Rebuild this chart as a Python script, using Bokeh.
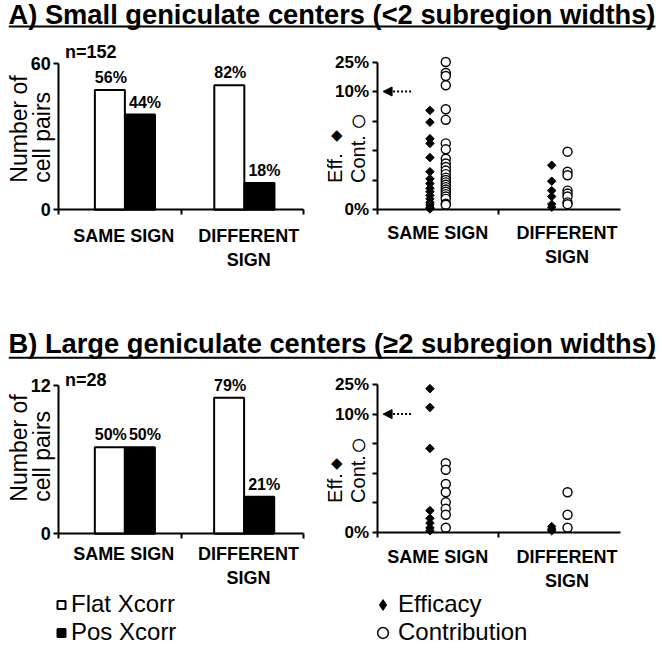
import math
from bokeh.plotting import figure
from bokeh.models import (ColumnDataSource, FixedTicker, Range1d, Label, LabelSet,
                          Arrow, NormalHead, Legend, LegendItem, BoxAnnotation, Spacer)
from bokeh.layouts import column, row
from bokeh.embed import file_html
from bokeh.resources import INLINE
from bokeh.core.properties import value

FONT = "Liberation Sans"

# ---------------- data ----------------
title_a = "A) Small geniculate centers (<2 subregion widths)"
title_b = "B) Large geniculate centers (\u22652 subregion widths)"
categories = ["SAME SIGN", "DIFFERENT\nSIGN"]
bar_ylabel = ["Number of", "cell pairs"]
sc_ylabel = ["Eff.", "Cont."]
sc_symbols = ["\u25c6", "\u25cb"]
legend_bars = ["Flat Xcorr", "Pos Xcorr"]
legend_marks = ["Efficacy", "Contribution"]

# panel A bars (number of cell pairs)
a_flat = [49, 51]
a_pos = [39, 11]
a_flat_pct = ["56%", "82%"]
a_pos_pct = ["44%", "18%"]
a_n = "n=152"
a_ymax = 60

# panel B bars
b_flat = [7, 11]
b_pos = [7, 3]
b_flat_pct = ["50%", "79%"]
b_pos_pct = ["50%", "21%"]
b_n = "n=28"
b_ymax = 12

# efficacy / contribution (percent)
a_same_eff = [8.4, 7.4, 6.0, 5.6, 4.4, 3.2, 2.6, 2.2, 1.8, 1.5, 1.2, 0.9, 0.6, 0.4, 0.2, 0.1, 0.05]
a_same_cont = [25, 19.4, 17.9, 13.2, 8.5, 7.6, 5.6, 5.1, 4.3, 3.9, 3.6, 3.3, 3.0, 2.7, 2.5,
               2.3, 2.1, 1.9, 1.7, 1.5, 1.3, 1.1, 0.9, 0.5, 0.4]
a_diff_eff = [3.75, 2.4, 1.6, 1.1, 0.45, 0.2]
a_diff_cont = [4.9, 3.2, 2.9, 1.6, 1.35, 1.1, 0.6, 0.45]
b_same_eff = [22.9, 13.4, 7.1, 1.85, 1.2, 0.8, 0.4, 0.15]
b_same_cont = [5.85, 5.3, 4.1, 3.4, 2.55, 2.0, 1.5, 0.4]
b_diff_eff = [0.5, 0.3, 0.15]
b_diff_cont = [3.4, 1.5, 0.4]

pct_ticks = [0, 2.5, 5, 7.5, 10, 25]
pct_labels = ["0%", "", "", "", "10%", "25%"]
arrow_level = 10


def to_axis(v):
    # broken scale: 0-10% linear, then 10-25% compressed into one step
    return v / 2.5 if v <= 10 else 4 + (v - 10) / 15.0


# ---------------- helpers ----------------
def make_fig(fig_box, data_box, ext):
    """fig_box/data_box in page pixels (left, top, right, bottom); ext = data extents."""
    fx0, fy0, fx1, fy1 = fig_box
    dl, dt, dr, db = data_box
    xmin, xmax, ymin, ymax = ext
    sx = (xmax - xmin) / (dr - dl)
    sy = (ymax - ymin) / (db - dt)
    xr = Range1d(xmin - (dl - fx0) * sx, xmax + (fx1 - dr) * sx)
    yr = Range1d(ymin - (fy1 - db) * sy, ymax + (dt - fy0) * sy)
    p = figure(width=fx1 - fx0, height=fy1 - fy0, x_range=xr, y_range=yr,
               output_backend="svg", toolbar_location=None, title=None, min_border=0)
    p.grid.visible = False
    p.outline_line_color = None
    return p


def style_xaxis(p, label_pos, minor, standoff):
    ax = p.xaxis[0]
    ax.fixed_location = 0
    ax.bounds = (0, 2)
    ax.ticker = FixedTicker(ticks=label_pos, minor_ticks=minor)
    ax.major_label_overrides = {label_pos[0]: categories[0], label_pos[1]: categories[1]}
    ax.major_tick_line_color = None
    ax.major_tick_out = 0
    ax.major_tick_in = 0
    ax.minor_tick_out = 5
    ax.minor_tick_in = 0
    ax.minor_tick_line_width = 2
    ax.minor_tick_line_color = "black"
    ax.axis_line_width = 2
    ax.axis_line_color = "black"
    ax.major_label_standoff = standoff
    ax.major_label_text_font = FONT
    ax.major_label_text_font_style = "bold"
    ax.major_label_text_font_size = "18px"
    ax.major_label_text_color = "black"


def style_yaxis(p, ticks, top, overrides, size):
    ax = p.yaxis[0]
    ax.fixed_location = 0
    ax.bounds = (0, top)
    ax.ticker = FixedTicker(ticks=ticks)
    if overrides:
        ax.major_label_overrides = overrides
    ax.major_tick_out = 5
    ax.major_tick_in = 0
    ax.major_tick_line_width = 2
    ax.major_tick_line_color = "black"
    ax.minor_tick_line_color = None
    ax.axis_line_width = 2
    ax.axis_line_color = "black"
    ax.major_label_standoff = 3
    ax.major_label_text_font = FONT
    ax.major_label_text_font_style = "bold"
    ax.major_label_text_font_size = size
    ax.major_label_text_color = "black"


def ylabels(p, texts, y, offsets, size):
    for txt, xo in zip(texts, offsets):
        p.add_layout(Label(x=0, y=y, x_offset=xo, text=txt, angle=math.pi / 2,
                           text_align="left", text_baseline="middle", text_font=FONT,
                           text_font_size=size, text_color="black"))


def bar_panel(flat, pos, flat_pct, pos_pct, n_text, ymax, fig_box, data_box, standoff,
              ylab_y, n_off):
    p = make_fig(fig_box, data_box, (0, 2, 0, ymax))
    style_xaxis(p, [0.53, 1.55], [0, 1, 2], standoff)
    style_yaxis(p, [0, ymax], ymax, None, "18px")
    centers = [0.54, 1.515]
    src = ColumnDataSource(dict(
        xw=[c - 0.123 for c in centers], xb=[c + 0.123 for c in centers],
        flat=flat, pos=pos, fp=flat_pct, pp=pos_pct))
    p.vbar(x="xw", top="flat", width=0.245, source=src, fill_color="white",
           line_color="black", line_width=2)
    p.vbar(x="xb", top="pos", width=0.245, source=src, fill_color="black",
           line_color="black", line_width=2)
    for xcol, ycol, tcol, xo in (("xw", "flat", "fp", 1), ("xb", "pos", "pp", 5)):
        p.add_layout(LabelSet(x=xcol, y=ycol, text=tcol, source=src, x_offset=xo, y_offset=4,
                              text_align="center", text_baseline="bottom",
                              text_font=value(FONT), text_font_style="bold",
                              text_font_size="16px", text_color="black"))
    p.add_layout(Label(x=0.05, y=ymax, y_offset=n_off, text=n_text, text_font=FONT,
                       text_font_style="bold", text_font_size="18px",
                       text_baseline="bottom", text_color="black"))
    ylabels(p, bar_ylabel, ylab_y, (-40, -17), "23px")
    return p


def scatter_panel(same_eff, same_cont, diff_eff, diff_cont, fig_box, data_box, standoff,
                  ylab_y, sym_y):
    p = make_fig(fig_box, data_box, (0, 2, 0, 5))
    style_xaxis(p, [0.5, 1.56], [0, 1], standoff)
    tick_pos = [to_axis(t) for t in pct_ticks]
    style_yaxis(p, tick_pos, 5, dict(zip(tick_pos, pct_labels)), "17px")
    centers = [0.5, 1.5]
    ex, ey, cx, cy = [], [], [], []
    for c, e, k in zip(centers, [same_eff, diff_eff], [same_cont, diff_cont]):
        ex += [c - 0.065] * len(e)
        ey += [to_axis(v) for v in e]
        cx += [c + 0.065] * len(k)
        cy += [to_axis(v) for v in k]
    p.scatter(x=cx, y=cy, marker="circle", size=9, fill_color="white",
              line_color="black", line_width=1.4)
    p.scatter(x=ex, y=ey, marker="square", angle=math.pi / 4, size=6,
              fill_color="black", line_color="black", line_width=1)
    ya = to_axis(arrow_level)
    p.add_layout(Arrow(end=NormalHead(size=9, fill_color="black", line_color="black",
                                      line_width=1),
                       x_start=0.28, y_start=ya, x_end=0.05, y_end=ya,
                       line_dash="2 2", line_width=2, line_color="black"))
    ylabels(p, sc_ylabel, ylab_y, (-42, -19), "20px")
    for sym, xo, sy, fs in zip(sc_symbols, (-40, -18), sym_y, ("15px", "29px")):
        p.add_layout(Label(x=0, y=sy, x_offset=xo, text=sym, text_align="center",
                           text_baseline="middle", text_font=FONT, text_font_size=fs,
                           text_color="black"))
    return p


def title_block(text, height, label_y, line_y):
    t = figure(width=654, height=height, x_range=Range1d(0, 654), y_range=Range1d(0, height),
               output_backend="svg", toolbar_location=None, title=None,
               x_axis_type=None, y_axis_type=None, min_border=0)
    t.grid.visible = False
    t.outline_line_color = None
    t.add_layout(Label(x=0, y=label_y, text=text, text_font=FONT, text_font_style="bold",
                       text_font_size="27.3px", text_baseline="bottom",
                       text_color="black"))
    t.add_layout(BoxAnnotation(left=0, right=647, bottom=line_y - 1, top=line_y + 1,
                               fill_color="black", fill_alpha=1, line_color=None))
    return row(Spacer(width=8, height=height), t)


# ---------------- build ----------------
ta = title_block(title_a, 32, 2.2, 6)
pa1 = bar_panel(a_flat, a_pos, a_flat_pct, a_pos_pct, a_n, a_ymax,
                (0, 32, 325, 300), (58.3, 62.7, 303.3, 209.3), 11, 11.1, 1)
pa2 = scatter_panel(a_same_eff, a_same_cont, a_diff_eff, a_diff_cont,
                    (325, 32, 662, 300), (376.5, 61.5, 620, 209), 8, 0.9, (2.54, 3.05))
tb = title_block(title_b, 70, 11.2, 12.7)
pb1 = bar_panel(b_flat, b_pos, b_flat_pct, b_pos_pct, b_n, b_ymax,
                (0, 370, 325, 590), (58.3, 385, 303, 533.3), 5, 2.6, -4)
pb2 = scatter_panel(b_same_eff, b_same_cont, b_diff_eff, b_diff_cont,
                    (325, 370, 662, 590), (376.5, 384, 620, 532), 9, 1.0, (2.37, 3.0))

lg = figure(width=662, height=58, x_range=Range1d(0, 1), y_range=Range1d(0, 1),
            output_backend="svg", toolbar_location=None, title=None,
            x_axis_type=None, y_axis_type=None, min_border=0)
lg.grid.visible = False
lg.outline_line_color = None
r_flat = lg.scatter(x=[-5], y=[-5], marker="square", size=10, fill_color="white",
                    line_color="black", line_width=2)
r_pos = lg.scatter(x=[-5], y=[-5], marker="square", size=10, fill_color="black",
                   line_color="black", line_width=2)
r_eff = lg.scatter(x=[-5], y=[-5], marker="diamond", size=10, fill_color="black",
                   line_color="black")
r_cont = lg.scatter(x=[-5], y=[-5], marker="circle", size=10, fill_color="white",
                    line_color="black", line_width=1.5)


def make_legend(labels, rends, loc, gw, standoff):
    return Legend(items=[LegendItem(label=l, renderers=[r]) for l, r in zip(labels, rends)],
                  location=loc, orientation="vertical", glyph_width=gw, glyph_height=27,
                  label_height=27, label_standoff=standoff, spacing=0, padding=0, margin=0,
                  border_line_color=None, background_fill_alpha=0,
                  label_text_font=FONT, label_text_font_size="24px",
                  label_text_color="black")


lg.add_layout(make_legend(legend_bars, [r_flat, r_pos], (51, 2), 20, 0))
lg.add_layout(make_legend(legend_marks, [r_eff, r_cont], (369, 2), 27, 2))

layout = column(ta, row(pa1, pa2), tb, row(pb1, pb2), lg)

open("out.html", "w").write(file_html(layout, INLINE))
